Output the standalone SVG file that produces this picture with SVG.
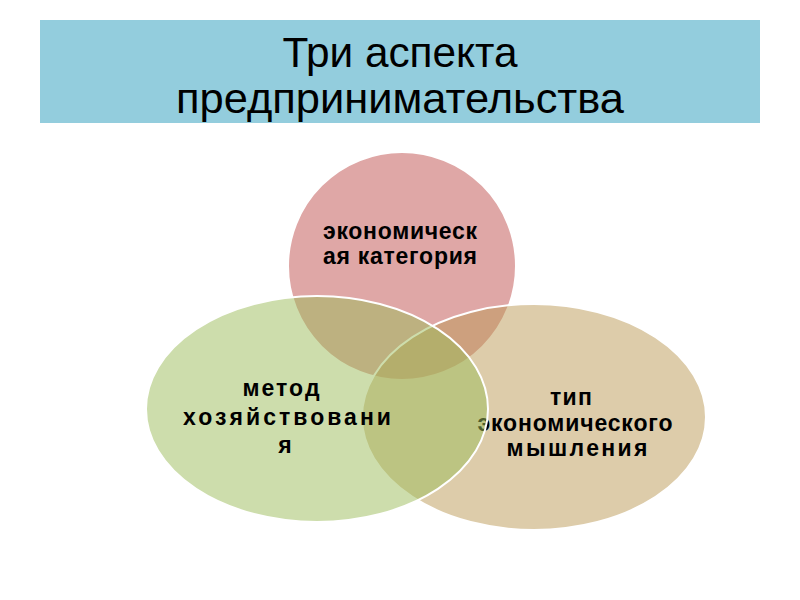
<svg xmlns="http://www.w3.org/2000/svg" width="800" height="600" viewBox="0 0 800 600">
<style>
.title{font-family:"Liberation Sans",Arial,sans-serif;font-size:42px;fill:#000;text-anchor:middle}
.lbl{font-family:"Liberation Sans",Arial,sans-serif;font-size:23px;font-weight:bold;fill:#000;text-anchor:middle}
.shape{stroke:#fff;stroke-width:2;fill-opacity:0.5}
</style>
<rect x="0" y="0" width="800" height="600" fill="#fff"/>
<g id="title">
<rect x="40" y="20" width="720" height="103" fill="#93CDDD"/>
<text class="title" x="400" y="67" textLength="235" lengthAdjust="spacingAndGlyphs">Три аспекта</text>
<text class="title" x="400" y="113" textLength="448" lengthAdjust="spacingAndGlyphs">предпринимательства</text>
</g>
<g id="connectors"></g>
<g id="node-economic">
<circle class="shape" cx="402" cy="266" r="114" fill="#C0504D"/>
<text class="lbl" x="400" y="239" textLength="154" lengthAdjust="spacing">экономическ</text>
<text class="lbl" x="400" y="264" textLength="154" lengthAdjust="spacing">ая категория</text>
</g>
<g id="node-thinking">
<ellipse class="shape" cx="534" cy="417" rx="172" ry="113" fill="#BB9955"/>
<text class="lbl" x="571" y="405" textLength="42" lengthAdjust="spacing">тип</text>
<text class="lbl" x="575" y="431" textLength="195" lengthAdjust="spacing">экономического</text>
<text class="lbl" x="577" y="456" textLength="141" lengthAdjust="spacing">мышления</text>
</g>
<g id="node-method">
<ellipse class="shape" cx="317" cy="409" rx="171" ry="113" fill="#9BBB59"/>
<text class="lbl" x="281" y="396" textLength="77" lengthAdjust="spacing">метод</text>
<text class="lbl" x="287" y="425" textLength="208" lengthAdjust="spacing">хозяйствовани</text>
<text class="lbl" x="285" y="453">я</text>
</g>
</svg>
